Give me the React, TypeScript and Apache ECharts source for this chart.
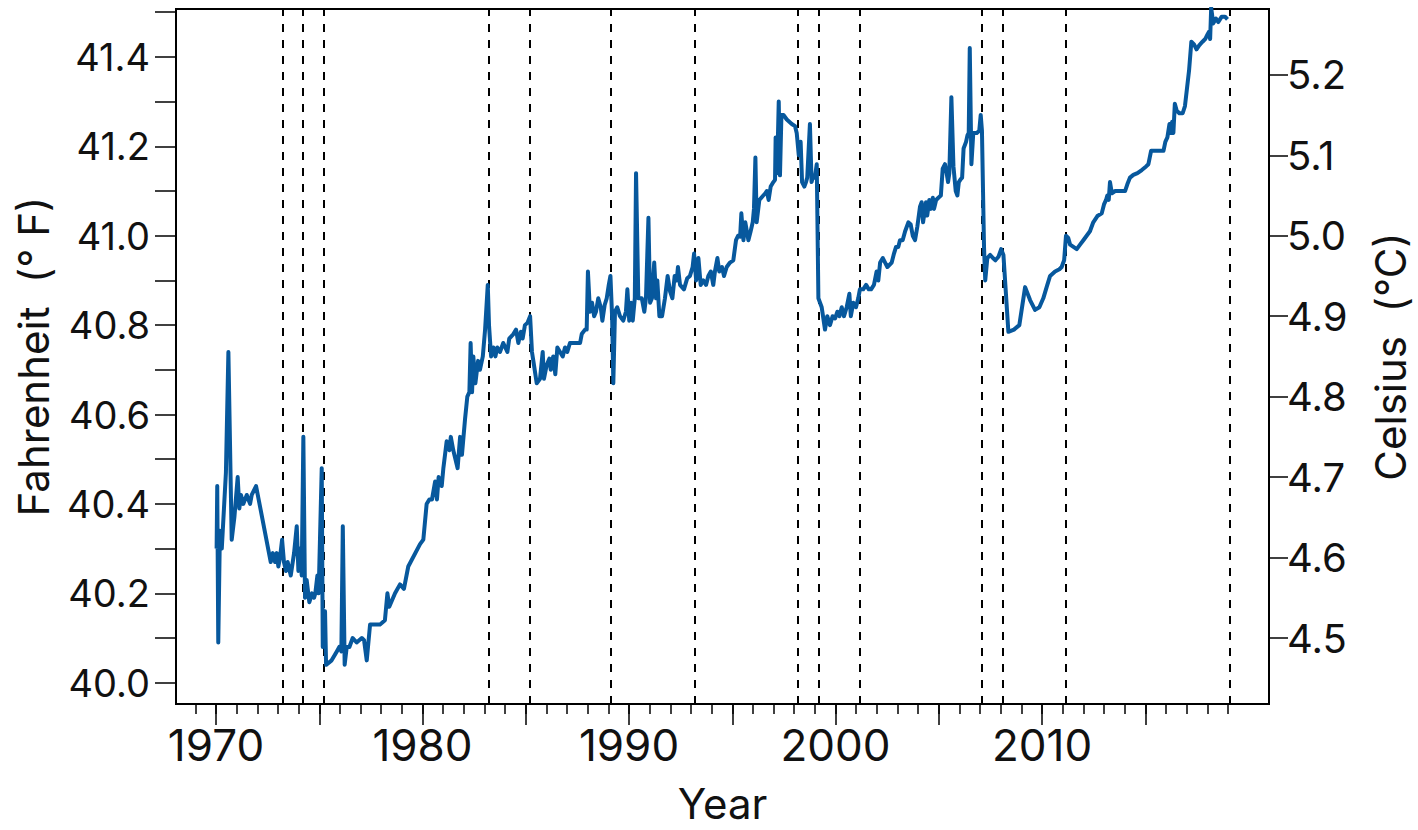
import { useEffect, useRef } from 'react';
import * as echarts from 'echarts';

// Monthly mean temperature record (decimal year, °F)
const years = [
  1970.03, 1970.06, 1970.11, 1970.19, 1970.28, 1970.48, 1970.60, 1970.76, 1970.89, 1971.05,
  1971.13, 1971.21, 1971.32, 1971.49, 1971.65, 1971.73, 1971.94, 1972.65, 1972.75, 1972.86,
  1972.94, 1973.02, 1973.10, 1973.20, 1973.29, 1973.39, 1973.47, 1973.62, 1973.78, 1973.91,
  1973.99, 1974.07, 1974.15, 1974.23, 1974.31, 1974.39, 1974.52, 1974.65, 1974.75, 1974.81,
  1974.91, 1974.97, 1975.12, 1975.17, 1975.28, 1975.33, 1975.60, 1975.85, 1975.97, 1976.07,
  1976.14, 1976.23, 1976.33, 1976.46, 1976.62, 1976.81, 1977.06, 1977.17, 1977.30, 1977.46,
  1977.70, 1977.94, 1978.18, 1978.30, 1978.39, 1978.67, 1978.91, 1979.10, 1979.31, 1979.88,
  1980.04, 1980.20, 1980.33, 1980.46, 1980.61, 1980.70, 1980.78, 1980.93, 1981.01, 1981.17,
  1981.30, 1981.37, 1981.49, 1981.70, 1981.82, 1981.91, 1982.06, 1982.17, 1982.27, 1982.33,
  1982.40, 1982.46, 1982.56, 1982.69, 1982.78, 1982.92, 1983.03, 1983.16, 1983.22, 1983.32,
  1983.43, 1983.53, 1983.62, 1983.75, 1983.91, 1984.11, 1984.20, 1984.40, 1984.53, 1984.64,
  1984.76, 1984.85, 1984.96, 1985.08, 1985.21, 1985.30, 1985.40, 1985.53, 1985.69, 1985.82,
  1985.88, 1986.01, 1986.14, 1986.21, 1986.33, 1986.43, 1986.53, 1986.66, 1986.79, 1986.90,
  1987.01, 1987.14, 1987.30, 1987.47, 1987.63, 1987.71, 1987.87, 1987.95, 1988.01, 1988.11,
  1988.21, 1988.31, 1988.40, 1988.51, 1988.63, 1988.71, 1988.82, 1988.92, 1989.02, 1989.10,
  1989.18, 1989.24, 1989.32, 1989.43, 1989.56, 1989.72, 1989.85, 1989.92, 1990.01, 1990.10,
  1990.18, 1990.28, 1990.34, 1990.45, 1990.62, 1990.74, 1990.82, 1990.94, 1991.02, 1991.11,
  1991.22, 1991.31, 1991.37, 1991.47, 1991.60, 1991.74, 1991.87, 1991.99, 1992.10, 1992.21,
  1992.31, 1992.37, 1992.47, 1992.66, 1992.82, 1992.95, 1993.08, 1993.15, 1993.25, 1993.36,
  1993.47, 1993.60, 1993.73, 1993.84, 1993.96, 1994.08, 1994.16, 1994.28, 1994.37, 1994.50,
  1994.60, 1994.73, 1994.89, 1995.05, 1995.18, 1995.28, 1995.38, 1995.44, 1995.54, 1995.63,
  1995.78, 1995.89, 1995.99, 1996.05, 1996.12, 1996.18, 1996.31, 1996.50, 1996.60, 1996.67,
  1996.76, 1996.86, 1996.99, 1997.07, 1997.10, 1997.17, 1997.25, 1997.31, 1997.38, 1997.48,
  1997.64, 1997.88, 1998.04, 1998.12, 1998.22, 1998.31, 1998.38, 1998.49, 1998.57, 1998.63,
  1998.76, 1998.84, 1998.92, 1999.00, 1999.09, 1999.17, 1999.33, 1999.49, 1999.60, 1999.73,
  1999.86, 1999.98, 2000.09, 2000.19, 2000.30, 2000.41, 2000.54, 2000.67, 2000.74, 2000.86,
  2000.99, 2001.10, 2001.18, 2001.34, 2001.48, 2001.61, 2001.72, 2001.86, 2001.99, 2002.07,
  2002.16, 2002.29, 2002.40, 2002.51, 2002.72, 2002.83, 2002.93, 2003.04, 2003.12, 2003.25,
  2003.37, 2003.53, 2003.64, 2003.74, 2003.85, 2003.96, 2004.09, 2004.17, 2004.24, 2004.38,
  2004.44, 2004.54, 2004.62, 2004.71, 2004.77, 2004.87, 2004.98, 2005.10, 2005.19, 2005.30,
  2005.38, 2005.45, 2005.51, 2005.61, 2005.71, 2005.82, 2005.90, 2005.97, 2006.04, 2006.13,
  2006.20, 2006.32, 2006.39, 2006.45, 2006.50, 2006.58, 2006.67, 2006.84, 2006.96, 2007.03,
  2007.09, 2007.19, 2007.25, 2007.35, 2007.49, 2007.62, 2007.74, 2007.89, 2008.02, 2008.13,
  2008.37, 2008.64, 2008.90, 2009.18, 2009.42, 2009.66, 2009.87, 2010.06, 2010.23, 2010.39,
  2010.63, 2010.84, 2010.95, 2011.07, 2011.16, 2011.27, 2011.36, 2011.52, 2011.68, 2011.84,
  2012.00, 2012.16, 2012.32, 2012.48, 2012.68, 2012.89, 2013.00, 2013.10, 2013.16, 2013.23,
  2013.29, 2013.38, 2013.54, 2013.70, 2013.86, 2014.02, 2014.13, 2014.26, 2014.42, 2014.62,
  2014.83, 2015.04, 2015.15, 2015.28, 2015.56, 2015.88, 2015.97, 2016.07, 2016.17, 2016.23,
  2016.30, 2016.36, 2016.43, 2016.52, 2016.65, 2016.81, 2016.92, 2017.01, 2017.12, 2017.23,
  2017.36, 2017.48, 2017.61, 2017.77, 2017.90, 2018.00, 2018.08, 2018.14, 2018.19, 2018.29,
  2018.42, 2018.53, 2018.70, 2018.86, 2018.98,
];

const fahrenheit = [
  40.30, 40.44, 40.09, 40.34, 40.30, 40.47, 40.74, 40.32, 40.37, 40.46,
  40.39, 40.42, 40.40, 40.42, 40.40, 40.42, 40.44, 40.27, 40.29, 40.27,
  40.29, 40.26, 40.28, 40.32, 40.27, 40.25, 40.27, 40.24, 40.29, 40.35,
  40.25, 40.30, 40.24, 40.55, 40.19, 40.23, 40.18, 40.20, 40.19, 40.20,
  40.24, 40.20, 40.48, 40.08, 40.16, 40.04, 40.05, 40.07, 40.08, 40.07,
  40.35, 40.04, 40.08, 40.08, 40.10, 40.09, 40.10, 40.095, 40.05, 40.13,
  40.13, 40.13, 40.14, 40.20, 40.17, 40.20, 40.22, 40.21, 40.26, 40.31,
  40.32, 40.40, 40.41, 40.41, 40.45, 40.41, 40.46, 40.44, 40.48, 40.54,
  40.52, 40.55, 40.52, 40.48, 40.55, 40.51, 40.59, 40.64, 40.65, 40.76,
  40.65, 40.73, 40.67, 40.72, 40.70, 40.73, 40.79, 40.89, 40.80, 40.73,
  40.75, 40.73, 40.75, 40.74, 40.76, 40.74, 40.77, 40.78, 40.79, 40.76,
  40.785, 40.77, 40.80, 40.805, 40.82, 40.74, 40.71, 40.67, 40.68, 40.74,
  40.68, 40.71, 40.725, 40.70, 40.73, 40.69, 40.75, 40.74, 40.73, 40.75,
  40.74, 40.76, 40.76, 40.76, 40.76, 40.78, 40.79, 40.79, 40.92, 40.83,
  40.85, 40.82, 40.83, 40.86, 40.84, 40.81, 40.845, 40.86, 40.89, 40.91,
  40.82, 40.67, 40.83, 40.84, 40.82, 40.81, 40.83, 40.88, 40.81, 40.85,
  40.81, 40.86, 41.14, 40.86, 40.86, 40.83, 40.86, 41.04, 40.85, 40.86,
  40.94, 40.86, 40.90, 40.82, 40.82, 40.86, 40.91, 40.875, 40.86, 40.91,
  40.90, 40.93, 40.89, 40.88, 40.905, 40.91, 40.93, 40.96, 40.90, 40.95,
  40.89, 40.90, 40.89, 40.91, 40.92, 40.89, 40.92, 40.95, 40.92, 40.93,
  40.91, 40.93, 40.94, 40.945, 40.99, 41.00, 40.998, 41.05, 40.99, 41.03,
  40.99, 41.01, 41.03, 41.06, 41.175, 41.03, 41.08, 41.09, 41.095, 41.10,
  41.08, 41.11, 41.12, 41.125, 41.22, 41.14, 41.30, 41.135, 41.27, 41.27,
  41.26, 41.25, 41.245, 41.23, 41.18, 41.21, 41.12, 41.11, 41.12, 41.13,
  41.25, 41.12, 41.135, 41.13, 41.16, 40.86, 40.84, 40.79, 40.82, 40.80,
  40.82, 40.815, 40.83, 40.82, 40.84, 40.82, 40.84, 40.87, 40.82, 40.85,
  40.84, 40.86, 40.88, 40.88, 40.89, 40.88, 40.88, 40.89, 40.92, 40.90,
  40.94, 40.95, 40.94, 40.93, 40.94, 40.96, 40.975, 40.975, 40.99, 40.99,
  41.01, 41.03, 41.025, 41.00, 40.99, 41.02, 41.065, 41.075, 41.03, 41.075,
  41.045, 41.08, 41.06, 41.085, 41.06, 41.08, 41.085, 41.09, 41.15, 41.16,
  41.14, 41.12, 41.14, 41.31, 41.155, 41.10, 41.09, 41.12, 41.125, 41.13,
  41.195, 41.21, 41.225, 41.23, 41.42, 41.16, 41.23, 41.23, 41.235, 41.27,
  41.235, 40.975, 40.90, 40.95, 40.957, 40.95, 40.945, 40.953, 40.97, 40.957,
  40.785, 40.79, 40.80, 40.885, 40.856, 40.834, 40.84, 40.86, 40.886, 40.91,
  40.92, 40.925, 40.93, 40.945, 41.00, 40.995, 40.98, 40.975, 40.97, 40.98,
  40.99, 41.00, 41.01, 41.03, 41.044, 41.05, 41.07, 41.08, 41.09, 41.08,
  41.12, 41.095, 41.10, 41.10, 41.10, 41.10, 41.115, 41.13, 41.136, 41.14,
  41.147, 41.155, 41.16, 41.19, 41.19, 41.19, 41.21, 41.22, 41.25, 41.23,
  41.255, 41.23, 41.295, 41.28, 41.274, 41.274, 41.29, 41.326, 41.37, 41.434,
  41.428, 41.417, 41.426, 41.434, 41.44, 41.449, 41.456, 41.44, 41.51, 41.475,
  41.486, 41.478, 41.49, 41.49, 41.484,
];

// Dates of instrument changes, drawn as dashed verticals
const eventYears = [
  1973.24, 1974.21, 1975.23, 1983.22, 1985.21, 1989.13, 1993.2,
  1998.18, 1999.19, 2001.19, 2007.09, 2008.11, 2011.16, 2019.1,
];

const yearMinorTicks = Array.from({ length: 51 }, (_, i) => 1969 + i);
const yearMajorTicks = [1970, 1975, 1980, 1985, 1990, 1995, 2000, 2005, 2010, 2015];
const yearLabels = [1970, 1980, 1990, 2000, 2010];

const fTicks = [40.0, 40.1, 40.2, 40.3, 40.4, 40.5, 40.6, 40.7, 40.8, 40.9, 41.0, 41.1, 41.2, 41.3, 41.4, 41.5];
const fLabels = [40.0, 40.2, 40.4, 40.6, 40.8, 41.0, 41.2, 41.4];
const cTicks = [4.5, 4.6, 4.7, 4.8, 4.9, 5.0, 5.1, 5.2];

const F_MIN = 39.9524;
const F_MAX = 41.5072;
const X_MIN = 1968.063;
const X_MAX = 2020.99;

const toC = (f: number) => (f - 32) / 1.8;

const FONT = 'Inter, Lato, sans-serif';
const LINE_BLUE = '#07589d';

export default function App() {
  const ref = useRef<HTMLDivElement>(null);

  useEffect(() => {
    if (!ref.current) return;
    const chart = echarts.init(ref.current, undefined, { renderer: 'svg' });

    const labelBase = { color: '#111', fontFamily: FONT };
    const titleStyle = { color: '#111', fontFamily: FONT, fontSize: 42, lineHeight: 42 };

    chart.setOption({
      animation: false,
      backgroundColor: '#fff',
      grid: {
        left: 176,
        right: 149,
        top: 9,
        bottom: 126,
        outerBoundsMode: 'none',
        containLabel: false,
        show: true,
        borderColor: '#000',
        borderWidth: 2,
        backgroundColor: 'transparent',
      },
      xAxis: [
        {
          type: 'value',
          min: X_MIN,
          max: X_MAX,
          position: 'bottom',
          name: 'Year',
          nameLocation: 'middle',
          nameGap: 78,
          nameTextStyle: titleStyle,
          axisLine: { show: true, lineStyle: { color: '#000', width: 2 } },
          axisTick: {
            show: true,
            inside: false,
            length: 10,
            lineStyle: { color: '#000', width: 1.5 },
            customValues: yearMinorTicks,
          },
          axisLabel: {
            ...labelBase,
            fontSize: 44,
            margin: 19,
            customValues: yearLabels,
            formatter: (v: number) => String(Math.round(v)),
          },
          splitLine: { show: false },
        },
        {
          type: 'value',
          min: X_MIN,
          max: X_MAX,
          position: 'bottom',
          axisLine: { show: false },
          axisTick: {
            show: true,
            inside: false,
            length: 21,
            lineStyle: { color: '#000', width: 1.5 },
            customValues: yearMajorTicks,
          },
          axisLabel: { show: false },
          splitLine: { show: false },
        },
      ],
      yAxis: [
        {
          type: 'value',
          min: F_MIN,
          max: F_MAX,
          position: 'left',
          name: 'Fahrenheit  (° F)',
          nameLocation: 'middle',
          nameGap: 122,
          nameRotate: 90,
          nameTextStyle: titleStyle,
          axisLine: { show: true, lineStyle: { color: '#000', width: 2 } },
          axisTick: {
            show: true,
            inside: false,
            length: 21,
            lineStyle: { color: '#000', width: 1.5 },
            customValues: fTicks,
          },
          axisLabel: {
            ...labelBase,
            fontSize: 38,
            margin: 26,
            customValues: fLabels,
            formatter: (v: number) => v.toFixed(1),
          },
          splitLine: { show: false },
        },
        {
          type: 'value',
          min: toC(F_MIN),
          max: toC(F_MAX),
          position: 'right',
          name: 'Celsius  (°C)',
          nameLocation: 'middle',
          nameGap: 100,
          nameRotate: 90,
          nameTextStyle: titleStyle,
          axisLine: { show: true, lineStyle: { color: '#000', width: 2 } },
          axisTick: {
            show: true,
            inside: false,
            length: 19,
            lineStyle: { color: '#000', width: 1.5 },
            customValues: cTicks,
          },
          axisLabel: {
            ...labelBase,
            fontSize: 40,
            margin: 18,
            customValues: cTicks,
            formatter: (v: number) => v.toFixed(1),
          },
          splitLine: { show: false },
        },
      ],
      series: [
        {
          type: 'line',
          xAxisIndex: 0,
          yAxisIndex: 0,
          data: years.map((y, i) => [y, fahrenheit[i]]),
          showSymbol: false,
          symbol: 'none',
          lineStyle: { color: LINE_BLUE, width: 4, join: 'round' },
          clip: true,
          z: 3,
          markLine: {
            silent: true,
            symbol: ['none', 'none'],
            label: { show: false },
            lineStyle: { color: '#000', type: [8, 8], width: 2 },
            data: eventYears.map((x) => ({ xAxis: x })),
            z: 2,
          },
        },
      ],
    });

    return () => chart.dispose();
  }, []);

  return (
    <div
      ref={ref}
      style={{ position: 'fixed', left: 0, top: 0, width: 1418, height: 830, background: '#fff' }}
    />
  );
}
